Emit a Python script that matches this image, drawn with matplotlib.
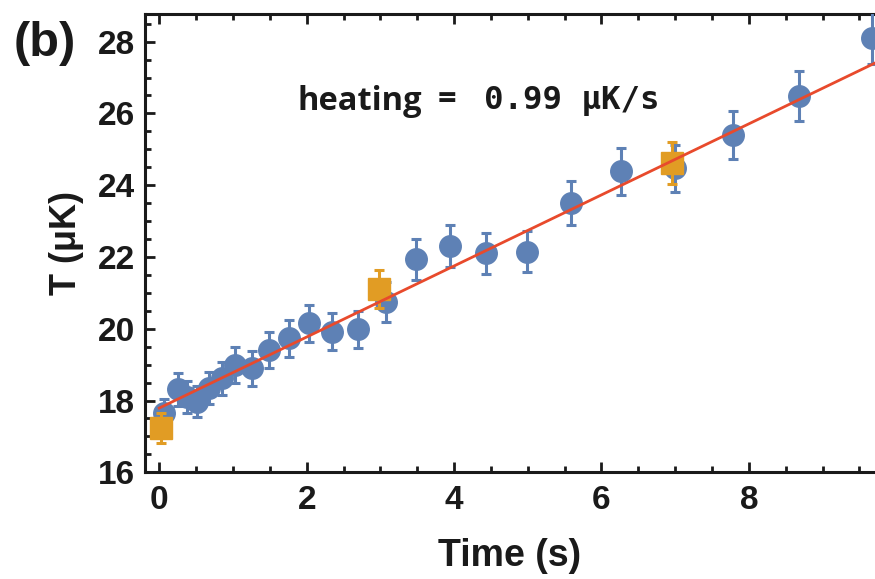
import matplotlib
matplotlib.use("Agg")
import matplotlib.pyplot as plt
from matplotlib.ticker import MultipleLocator
import numpy as np

# ---- data ----
blue_t = [0.06, 0.25, 0.37, 0.51, 0.67, 0.85, 1.03, 1.26, 1.49, 1.76, 2.03, 2.34,
          2.69, 3.07, 3.48, 3.94, 4.43, 4.99, 5.59, 6.26, 7.00, 7.79, 8.68, 9.67]
blue_T = [17.64, 18.31, 18.10, 17.97, 18.34, 18.62, 18.99, 18.90, 19.41, 19.73, 20.15, 19.92,
          19.98, 20.75, 21.93, 22.30, 22.10, 22.15, 23.51, 24.39, 24.47, 25.40, 26.49, 28.11]
blue_err = [0.40, 0.45, 0.44, 0.44, 0.45, 0.46, 0.49, 0.49, 0.50, 0.52, 0.52, 0.52,
            0.52, 0.55, 0.58, 0.58, 0.58, 0.58, 0.62, 0.65, 0.65, 0.68, 0.70, 0.72]

orange_t = [0.02, 2.98, 6.95]
orange_T = [17.24, 21.12, 24.62]
orange_err = [0.41, 0.53, 0.58]

fit_slope = 0.99
fit_intercept = 17.79
fit_range = [0.0, 9.9]

xticks = [0, 2, 4, 6, 8]
yticks = [16, 18, 20, 22, 24, 26, 28]

BLUE = "#5E81B5"
ORANGE = "#E19C24"
RED = "#E84A2C"
INK = "#1a1a1a"

fig = plt.figure(figsize=(8.75, 5.79), dpi=100)
ax = fig.add_axes([145/875, 1 - 472.3/579, (875 - 145)/875, (472.3 - 14)/579])

ax.errorbar(blue_t, blue_T, yerr=blue_err, fmt="o", color=BLUE, ms=15.5,
            elinewidth=2.2, capsize=3.5, capthick=2.2, mec=BLUE, zorder=3)
ax.errorbar(orange_t, orange_T, yerr=orange_err, fmt="s", color=ORANGE, ms=15.5,
            elinewidth=2.2, capsize=3.5, capthick=2.2, mec=ORANGE, zorder=4)
fx = np.array(fit_range)
ax.plot(fx, fit_intercept + fit_slope * fx, color=RED, lw=2.0, zorder=5)

ax.set_xlim(-0.194, 9.711)
ax.set_ylim(16, 28.77)
ax.set_xticks(xticks)
ax.set_yticks(yticks)
ax.xaxis.set_minor_locator(MultipleLocator(0.5))
ax.yaxis.set_minor_locator(MultipleLocator(0.5))

ax.spines["right"].set_visible(False)
for s in ["left", "bottom", "top"]:
    ax.spines[s].set_linewidth(2.2)
    ax.spines[s].set_color(INK)

ax.tick_params(which="both", direction="in", top=True, right=False, color=INK)
ax.tick_params(which="major", length=7, width=2)
ax.tick_params(which="minor", length=4, width=2)
ax.tick_params(axis="x", which="major", pad=9)
ax.tick_params(axis="y", which="major", pad=7)

for lab in ax.get_xticklabels() + ax.get_yticklabels():
    lab.set_fontfamily("Liberation Sans")
    lab.set_fontweight("bold")
    lab.set_fontsize(24)
    lab.set_color(INK)

ax.set_xlabel("Time (s)", family="Liberation Sans", weight="bold", size=27,
              color=INK, labelpad=16)
ax.set_ylabel("T (μK)", family="Liberation Sans", weight="bold", size=26,
              color=INK, labelpad=10)

fig.text(14/875, 1 - 44/579, "(b)", family="Liberation Sans", weight="bold",
         size=35, color=INK, va="center", ha="left")

fig.text(297/875, 1 - 101/579, "heating", family="Open Sans", weight="bold",
         size=23.5, color=INK, va="center", ha="left")
fig.text(438/875, 1 - 101/579, "=", family="Open Sans", weight="bold",
         size=23.5, color=INK, va="center", ha="left")
fig.text(484/875, 1 - 101/579, "0.99 μK/s", family="DejaVu Sans Mono", weight="bold",
         size=23.3, color=INK, va="center", ha="left")

fig.savefig("out.png", dpi=100)
